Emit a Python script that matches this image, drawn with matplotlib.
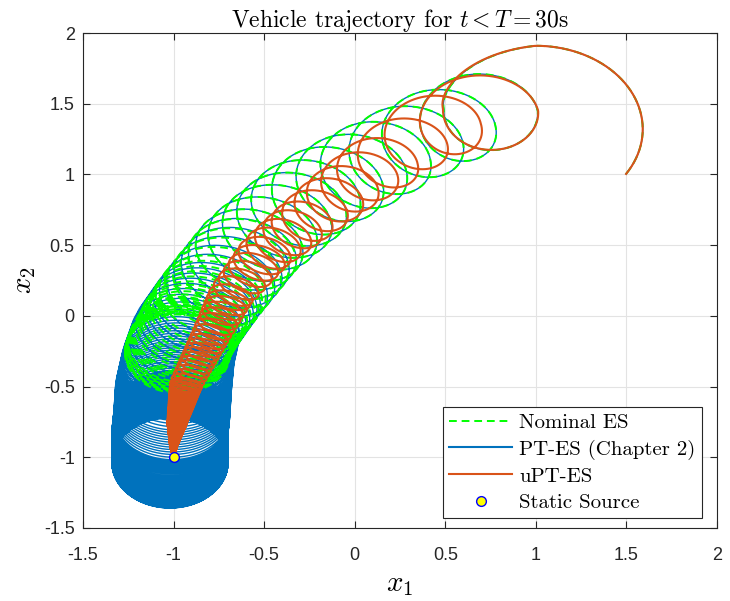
import numpy as np
import matplotlib
matplotlib.use('Agg')
import matplotlib.pyplot as plt

plt.rcParams['mathtext.fontset'] = 'cm'
plt.rcParams['axes.unicode_minus'] = False

# loop keyframes:
# turn = loop count, (cx, cy) = loop centre, r = loop radius,
# k = squeeze of the loop along the drift direction
nom_turn = [-0.09, 0.25, 0.5, 1, 2, 4, 7, 11, 16, 21, 26, 31, 36, 40]
nom_cx = [1.0, 1.0, 0.78, 0.745, 0.51, 0.148, -0.249, -0.57, -0.78, -0.88, -0.93, -0.96, -0.975, -0.98]
nom_cy = [1.32, 1.32, 1.47, 1.455, 1.35, 1.114, 0.84, 0.50, 0.17, -0.01, -0.12, -0.19, -0.24, -0.27]
nom_r = [0.59, 0.59, 0.30, 0.285, 0.285, 0.29, 0.30, 0.30, 0.30, 0.295, 0.29, 0.29, 0.29, 0.29]
nom_k = [1.0, 1.0, 0.95, 0.92, 0.92, 0.9, 0.88, 0.85, 0.85, 0.85, 0.85, 0.85, 0.85, 0.85]

pt_turn = [-0.09, 0.25, 0.5, 1, 2, 4, 7, 11, 17, 23, 30, 40, 52, 65, 85, 110, 150]
pt_cx = [1.0, 1.0, 0.78, 0.745, 0.51, 0.148, -0.249, -0.57, -0.81, -0.93, -0.975, -1.0, -1.01, -1.02, -1.02, -1.02, -1.02]
pt_cy = [1.32, 1.32, 1.47, 1.455, 1.35, 1.114, 0.84, 0.50, 0.12, -0.10, -0.30, -0.50, -0.70, -0.82, -0.94, -1.0, -1.04]
pt_r = [0.59, 0.59, 0.30, 0.285, 0.285, 0.29, 0.30, 0.30, 0.30, 0.30, 0.31, 0.32, 0.32, 0.32, 0.32, 0.32, 0.32]
pt_k = [1.0, 1.0, 0.95, 0.92, 0.92, 0.9, 0.88, 0.85, 0.85, 0.85, 0.88, 0.9, 0.93, 0.93, 0.93, 0.93, 0.93]

upt_turn = [-0.09, 0.25, 0.5, 1, 2, 3, 4, 6, 9, 13, 19, 27, 38, 55, 80, 110, 150]
upt_cx = [1.0, 1.0, 0.78, 0.745, 0.47, 0.30, 0.147, -0.05, -0.28, -0.49, -0.68, -0.80, -0.93, -0.98, -1.0, -1.0, -1.0]
upt_cy = [1.32, 1.32, 1.47, 1.455, 1.365, 1.22, 1.08, 0.90, 0.67, 0.45, 0.15, -0.15, -0.48, -0.75, -0.92, -0.99, -1.0]
upt_r = [0.59, 0.59, 0.30, 0.28, 0.235, 0.22, 0.21, 0.19, 0.17, 0.15, 0.125, 0.105, 0.09, 0.055, 0.02, 0.004, 0.0]
upt_k = [1.0, 1.0, 0.97, 0.95, 0.95, 0.93, 0.92, 0.9, 0.82, 0.72, 0.58, 0.5, 0.45, 0.45, 0.45, 0.45, 0.45]

source = (-1.0, -1.0)

labels = ['Nominal ES', 'PT-ES (Chapter 2)', 'uPT-ES', 'Static Source']
ticks_x = [-1.5, -1, -0.5, 0, 0.5, 1, 1.5, 2]
ticks_y = [-1.5, -1, -0.5, 0, 0.5, 1, 1.5, 2]


def trajectory(turn, cx, cy, r, k, per_turn=240):
    phi = np.linspace(turn[0], turn[-1], int((turn[-1] - turn[0]) * per_turn))
    ccx = np.interp(phi, turn, cx)
    ccy = np.interp(phi, turn, cy)
    rr = np.interp(phi, turn, r)
    kk = np.interp(phi, turn, k)
    # drift direction of the loop centre
    dx = np.interp(phi + 0.5, turn, cx) - np.interp(phi - 0.5, turn, cx)
    dy = np.interp(phi + 0.5, turn, cy) - np.interp(phi - 0.5, turn, cy)
    nd = np.hypot(dx, dy)
    ux = dx / np.maximum(nd, 1e-9)
    uy = dy / np.maximum(nd, 1e-9)
    w = np.clip(nd / 0.02, 0, 1)
    ox = rr * np.cos(2 * np.pi * phi)
    oy = rr * np.sin(2 * np.pi * phi)
    s = (1 - kk) * w * (ox * ux + oy * uy)
    return ccx + ox - s * ux, ccy + oy - s * uy


fig = plt.figure(figsize=(7.30, 6.01), dpi=100)
ax = fig.add_axes([0.1137, 0.1215, 0.8685, 0.8235])

c_nom = (0.0, 1.0, 0.0)
c_pt = (0.0, 0.447, 0.741)
c_upt = (0.85, 0.325, 0.098)

xb, yb = trajectory(pt_turn, pt_cx, pt_cy, pt_r, pt_k)
ax.plot(xb, yb, color=c_pt, lw=1.0, zorder=2, label=labels[1])
xg, yg = trajectory(nom_turn, nom_cx, nom_cy, nom_r, nom_k)
ax.plot(xg, yg, color=c_nom, lw=1.4, ls=(0, (4, 2.5)), zorder=3, label=labels[0])
xo, yo = trajectory(upt_turn, upt_cx, upt_cy, upt_r, upt_k)
ax.plot(xo, yo, color=c_upt, lw=1.5, zorder=4, label=labels[2])
ax.plot(source[0], source[1], 'o', ms=7, mfc='yellow', mec='blue', mew=1.0,
        zorder=5, label=labels[3], ls='none')

ax.set_xlim(-1.5, 2)
ax.set_ylim(-1.5, 2)
ax.set_xticks(ticks_x)
ax.set_yticks(ticks_y)
ax.set_xticklabels(['%g' % v for v in ticks_x], fontfamily='Liberation Sans')
ax.set_yticklabels(['%g' % v for v in ticks_y], fontfamily='Liberation Sans')
ax.tick_params(direction='in', top=True, right=True, labelsize=13, length=5,
               width=0.8, color='#262626', labelcolor='#262626')
ax.tick_params(axis='x', pad=14)
ax.tick_params(axis='y', pad=6)
ax.grid(True, color='#e3e3e3', lw=0.8)
ax.set_axisbelow(True)
for sp in ax.spines.values():
    sp.set_color('#262626')
    sp.set_linewidth(0.8)

ax.set_title(r'Vehicle trajectory for $t<T=30$s', fontfamily='cmr10', fontsize=17, pad=4)
ax.set_xlabel(r'$x_1$', fontsize=21, labelpad=4)
ax.set_ylabel(r'$x_2$', fontsize=21, labelpad=4)

h, l = ax.get_legend_handles_labels()
order = [1, 0, 2, 3]
leg = ax.legend([h[i] for i in order], [l[i] for i in order],
                loc='lower right', bbox_to_anchor=(0.976, 0.02),
                prop={'family': 'cmr10', 'size': 15},
                fancybox=False, framealpha=1, edgecolor='#262626',
                handlelength=3.0, labelspacing=0.36, borderpad=0.3,
                handletextpad=0.35, borderaxespad=0)
leg.get_frame().set_linewidth(0.8)
leg.get_lines()[1].set_linewidth(1.5)

fig.savefig('out.png', dpi=100)
